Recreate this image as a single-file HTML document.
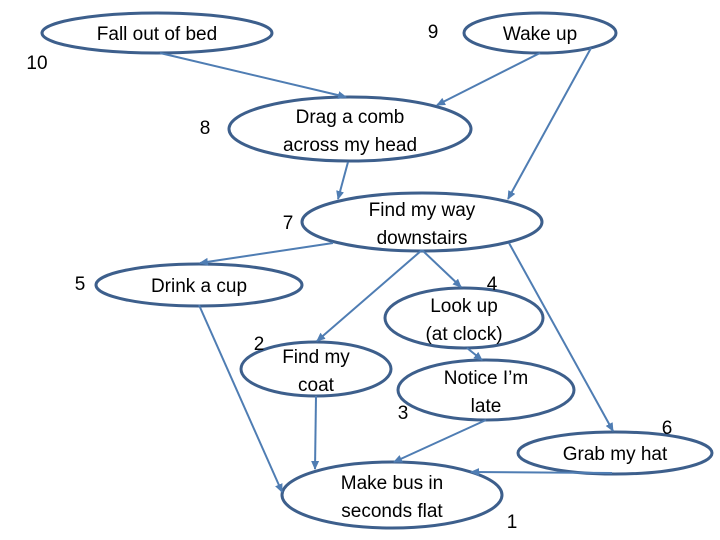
<!DOCTYPE html>
<html><head><meta charset="utf-8"><style>
html,body{margin:0;padding:0;background:#fff;}
svg{display:block;}
text{font-family:"Liberation Sans",sans-serif;font-size:19px;fill:#000;text-anchor:middle;}
ellipse{fill:#fff;stroke:#3d5f8c;stroke-width:3;}
line{stroke:#4f7db3;stroke-width:2;marker-end:url(#a);}
</style></head><body>
<svg width="720" height="540" viewBox="0 0 720 540">
<defs><marker id="a" markerWidth="10" markerHeight="10" refX="8" refY="5" orient="auto" markerUnits="userSpaceOnUse"><path d="M0,1 L9,5 L0,9 z" fill="#4f7db3"/></marker></defs>
<ellipse cx="157" cy="33" rx="115" ry="20"/>
<ellipse cx="540" cy="33" rx="76" ry="20"/>
<ellipse cx="350" cy="129" rx="121" ry="32"/>
<ellipse cx="422" cy="222" rx="120" ry="29"/>
<ellipse cx="199" cy="285" rx="103" ry="21"/>
<ellipse cx="464" cy="318" rx="79" ry="30"/>
<ellipse cx="316" cy="369" rx="75" ry="27"/>
<ellipse cx="486" cy="390" rx="88" ry="30"/>
<ellipse cx="615" cy="453" rx="97" ry="21"/>
<ellipse cx="392" cy="495" rx="110" ry="33"/>
<line x1="160" y1="53" x2="346" y2="97"/>
<line x1="540" y1="53" x2="437" y2="105"/>
<line x1="591" y1="48" x2="508" y2="199"/>
<line x1="348" y1="162" x2="338" y2="199"/>
<line x1="333" y1="243" x2="200" y2="263"/>
<line x1="422" y1="250" x2="317" y2="341"/>
<line x1="422" y1="250" x2="461" y2="287"/>
<line x1="509" y1="243" x2="613" y2="431"/>
<line x1="199" y1="305" x2="282" y2="492"/>
<line x1="316" y1="396" x2="315" y2="469"/>
<line x1="467" y1="348" x2="482" y2="360"/>
<line x1="486" y1="420" x2="394" y2="462"/>
<line x1="612" y1="473" x2="471" y2="472"/>
<text x="157" y="40">Fall out of bed</text>
<text x="540" y="40">Wake up</text>
<text x="350" y="123">Drag a comb</text>
<text x="350" y="151">across my head</text>
<text x="422" y="216">Find my way</text>
<text x="422" y="244">downstairs</text>
<text x="199" y="292">Drink a cup</text>
<text x="464" y="312">Look up</text>
<text x="464" y="340">(at clock)</text>
<text x="316" y="363">Find my</text>
<text x="316" y="391">coat</text>
<text x="486" y="384">Notice I’m</text>
<text x="486" y="412">late</text>
<text x="615" y="460">Grab my hat</text>
<text x="392" y="489">Make bus in</text>
<text x="392" y="517">seconds flat</text>
<text x="37" y="69">10</text>
<text x="433" y="38">9</text>
<text x="205" y="134">8</text>
<text x="288" y="229">7</text>
<text x="80" y="290">5</text>
<text x="492" y="290">4</text>
<text x="259" y="350">2</text>
<text x="403" y="419">3</text>
<text x="667" y="434">6</text>
<text x="512" y="528">1</text>
</svg>
</body></html>
